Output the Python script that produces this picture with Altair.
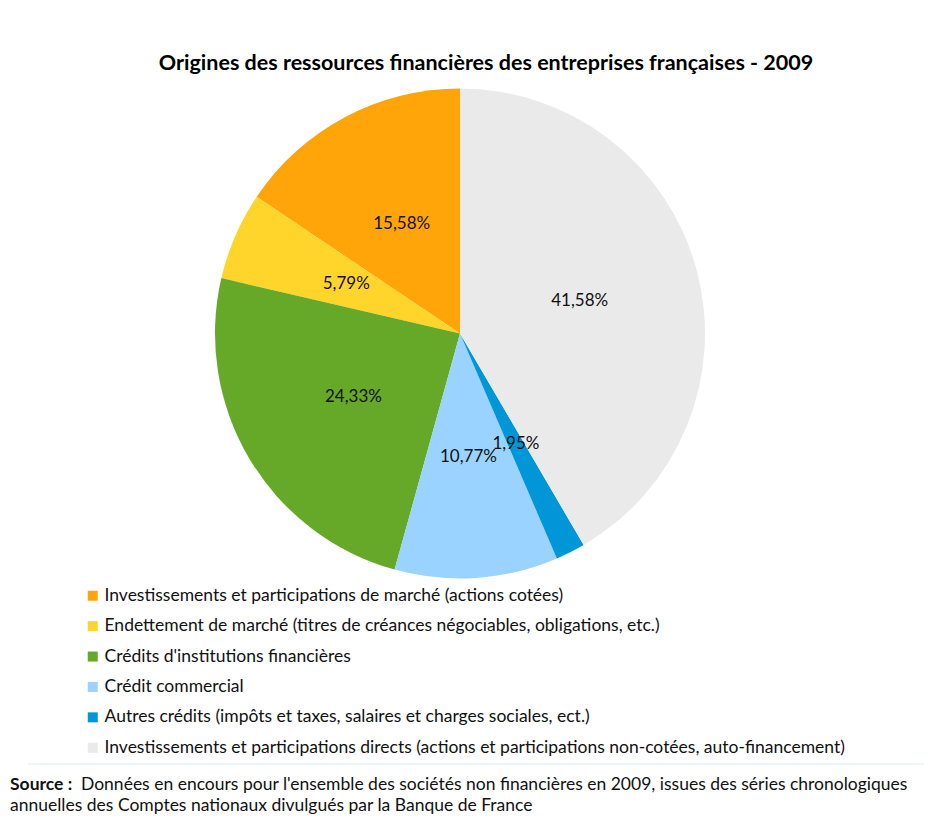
import altair as alt
import pandas as pd

# ---- data -------------------------------------------------------------
categories = [
    "Investissements et participations de marché (actions cotées)",
    "Endettement de marché (titres de créances négociables, obligations, etc.)",
    "Crédits d'institutions financières",
    "Crédit commercial",
    "Autres crédits (impôts et taxes, salaires et charges sociales, ect.)",
    "Investissements et participations directs (actions et participations non-cotées, auto-financement)",
]
shares = [15.58, 5.79, 24.33, 10.77, 1.95, 41.58]
slice_order = [6, 5, 4, 3, 2, 1]  # clockwise from 12 o'clock
colors = ["#FFA50A", "#FFD52B", "#66A828", "#9AD3FF", "#0096D8", "#EAEAEA"]

title_text = "Origines des ressources financières des entreprises françaises - 2009"
source_bold = "Source :"
source_line1 = "Données en encours pour l'ensemble des sociétés non financières en 2009, issues des séries chronologiques"
source_line2 = "annuelles des Comptes nationaux divulgués par la Banque de France"

df = pd.DataFrame({
    "cat": categories,
    "share": shares,
    "rank": slice_order,
    "label": [f"{v:.2f}".replace(".", ",") + "%" for v in shares],
})

FONT = "Lato"
CX, CY = 452, 250.5

color = alt.Color(
    "cat:N",
    scale=alt.Scale(domain=categories, range=colors),
    legend=alt.Legend(
        title=None,
        orient="none",
        legendX=76,
        legendY=504,
        symbolType="square",
        symbolSize=100,
        symbolStrokeWidth=0,
        symbolOpacity=1,
        labelFont=FONT,
        labelFontSize=17.5,
        labelColor="#111111",
        labelLimit=900,
        labelOffset=3,
        rowPadding=11.4,
        padding=0,
    ),
)

theta = alt.Theta("share:Q", stack=True)
order = alt.Order("rank:Q")

pie = alt.Chart(df).mark_arc(outerRadius=245, stroke=None).encode(
    theta=theta,
    color=color,
    order=order,
    x=alt.value(CX),
    y=alt.value(CY),
)

labels = alt.Chart(df).mark_text(
    radius=124, font=FONT, fontSize=17, color="#111111"
).encode(
    theta=theta,
    order=order,
    text="label:N",
    x=alt.value(CX),
    y=alt.value(CY),
)

sep = alt.Chart(pd.DataFrame({"k": [0]})).mark_rule(
    color="#DCEBF7", strokeWidth=1
).encode(x=alt.value(20), x2=alt.value(916), y=alt.value(681))

src_b = alt.Chart(pd.DataFrame({"t": [source_bold]})).mark_text(
    font=FONT, fontSize=17.5, fontWeight="bold", align="left", baseline="alphabetic", color="#111111"
).encode(text="t:N", x=alt.value(2), y=alt.value(707))
src_1 = alt.Chart(pd.DataFrame({"t": [source_line1]})).mark_text(
    font=FONT, fontSize=17.5, align="left", baseline="alphabetic", color="#111111"
).encode(text="t:N", x=alt.value(73), y=alt.value(707))
src_2 = alt.Chart(pd.DataFrame({"t": [source_line2]})).mark_text(
    font=FONT, fontSize=17.5, align="left", baseline="alphabetic", color="#111111"
).encode(text="t:N", x=alt.value(2), y=alt.value(728))

chart = alt.layer(pie, labels, sep, src_b, src_1, src_2).properties(
    width=916,
    height=733,
    autosize=alt.AutoSizeParams(type="none"),
    padding={"top": 75, "left": 0, "right": 0, "bottom": 0},
    title=alt.TitleParams(
        text=title_text,
        font=FONT,
        fontSize=21.5,
        fontWeight="bold",
        color="#000000",
        anchor="middle",
        dx=20,
        dy=23,
        offset=15,
        baseline="alphabetic",
    ),
).configure_view(stroke=None)

chart.save("out.html", embed_options={"renderer": "svg", "actions": False})
